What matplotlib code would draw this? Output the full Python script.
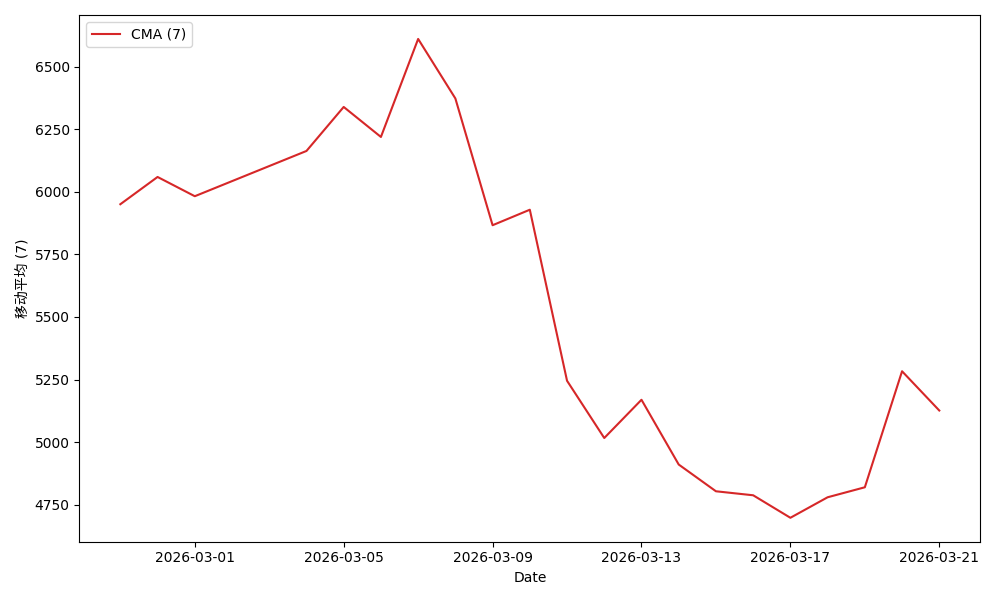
import numpy as np
import pandas as pd
import matplotlib
matplotlib.use("Agg")
import matplotlib.pyplot as plt
import matplotlib.dates as mdates

plt.rcParams['font.family'] = ['DejaVu Sans', 'Noto Sans CJK SC']

dates = pd.to_datetime([
    "2026-02-27", "2026-02-28", "2026-03-01", "2026-03-04", "2026-03-05",
    "2026-03-06", "2026-03-07", "2026-03-08", "2026-03-09", "2026-03-10",
    "2026-03-11", "2026-03-12", "2026-03-13", "2026-03-14", "2026-03-15",
    "2026-03-16", "2026-03-17", "2026-03-18", "2026-03-19", "2026-03-20",
    "2026-03-21",
])
cma = [5951, 6060, 5983, 6164, 6340, 6220, 6612, 6374, 5867, 5929,
       5245, 5016, 5169, 4910, 4803, 4787, 4697, 4779, 4819, 5283, 5126]
tick_dates = pd.to_datetime(["2026-03-01", "2026-03-05", "2026-03-09",
                             "2026-03-13", "2026-03-17", "2026-03-21"])

fig, ax = plt.subplots(figsize=(10, 6), dpi=100)
ax.plot(dates, cma, color="tab:red", label="CMA (7)")
ax.set_xticks(tick_dates)
ax.xaxis.set_major_formatter(mdates.DateFormatter("%Y-%m-%d"))
ax.set_xlabel("Date")
ax.set_ylabel("移动平均 (7)")
ax.legend(loc="upper left")
fig.tight_layout()
fig.savefig("out.png")
